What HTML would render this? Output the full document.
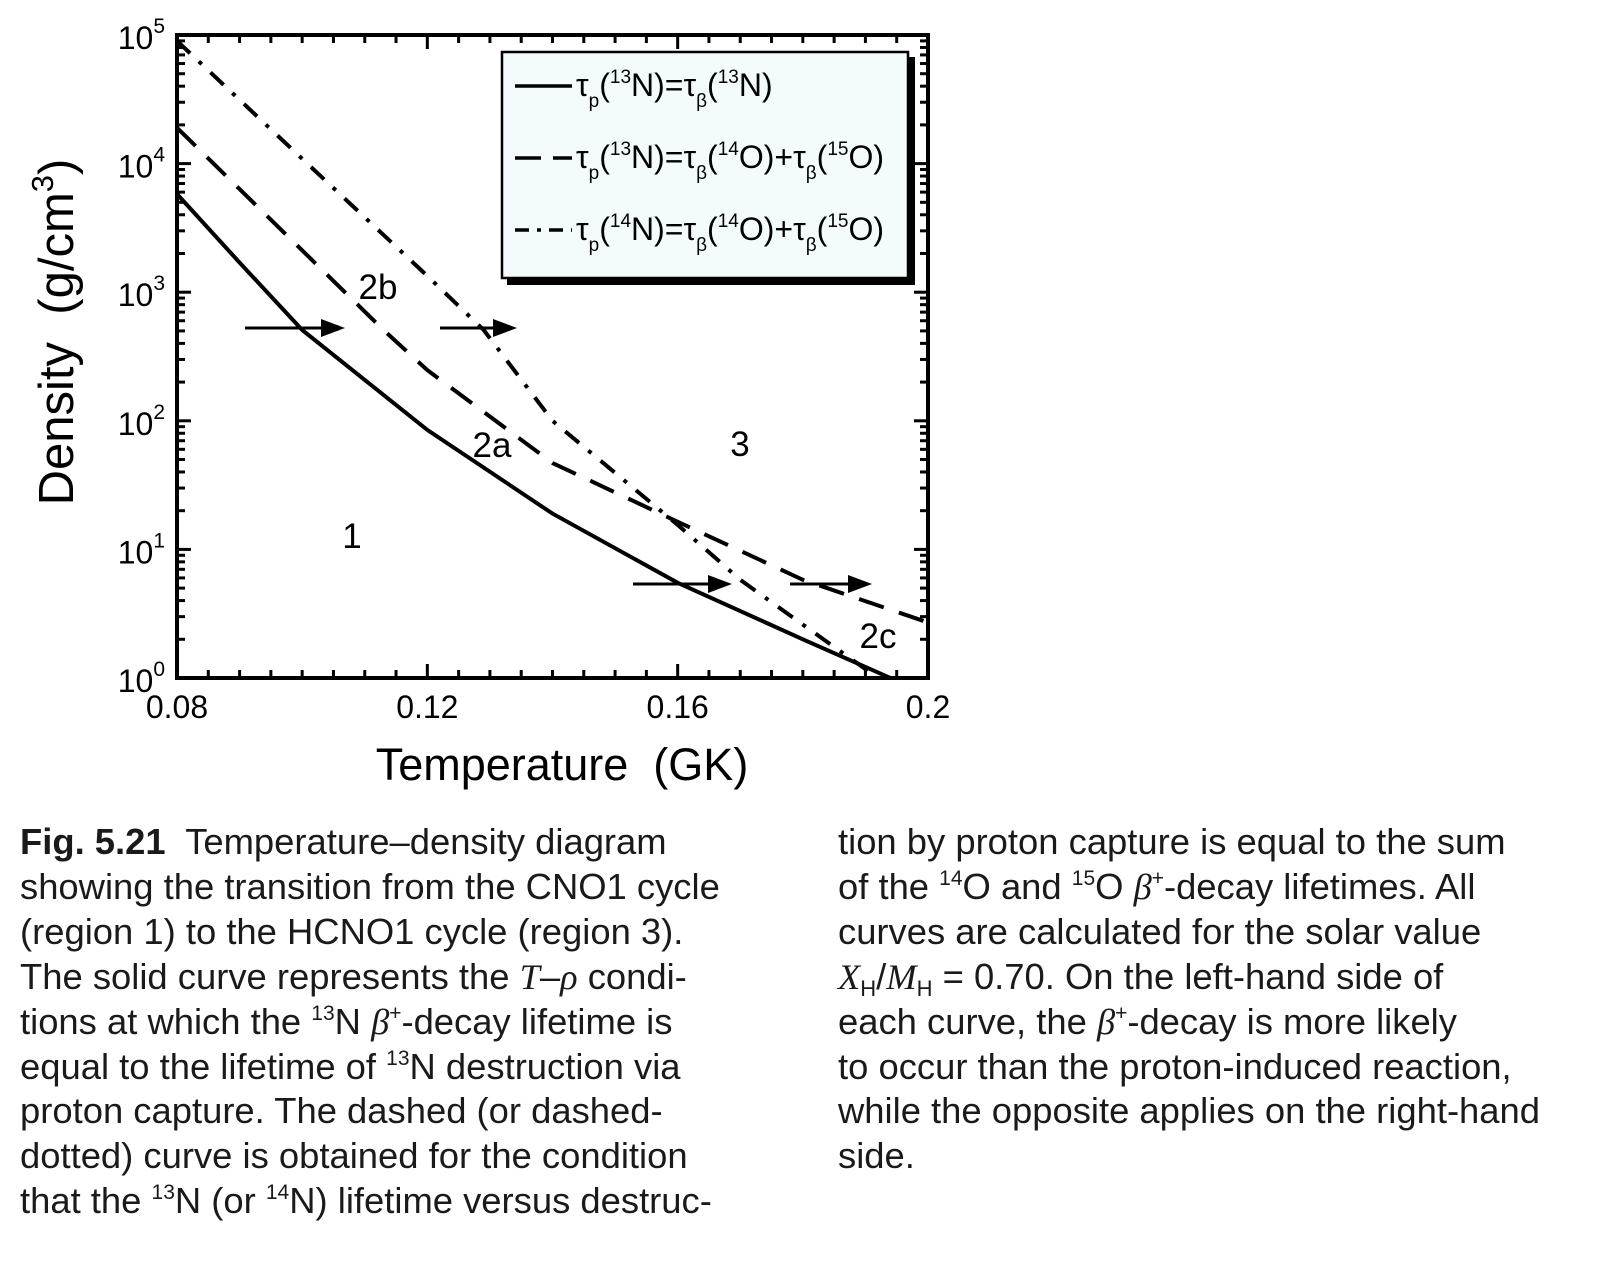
<!DOCTYPE html>
<html><head><meta charset="utf-8"><style>
body{margin:0;background:#fff;width:1608px;height:1266px;overflow:hidden;font-family:"Liberation Sans",sans-serif;}
.cap{position:absolute;font-size:36.4px;line-height:44.9px;color:#1a1a1a;white-space:nowrap;}
.cap i{font-family:"Liberation Serif",serif;}
.cap sup{font-size:21px;vertical-align:0;position:relative;top:-14px;line-height:0;}
.cap sub{font-size:22px;vertical-align:0;position:relative;top:7px;line-height:0;}
</style></head><body>
<svg id="chart" width="1608" height="800" style="position:absolute;left:0;top:0" font-family="Liberation Sans, sans-serif"></svg>
<div class="cap" style="left:20px;top:820px;"><b>Fig. 5.21</b>&nbsp; Temperature–density diagram<br>showing the transition from the CNO1 cycle<br>(region 1) to the HCNO1 cycle (region 3).<br>The solid curve represents the <i>T</i>–<i>ρ</i> condi-<br>tions at which the <sup>13</sup>N <i>β</i><sup>+</sup>-decay lifetime is<br>equal to the lifetime of <sup>13</sup>N destruction via<br>proton capture. The dashed (or dashed-<br>dotted) curve is obtained for the condition<br>that the <sup>13</sup>N (or <sup>14</sup>N) lifetime versus destruc-</div>
<div class="cap" style="left:838px;top:820px;">tion by proton capture is equal to the sum<br>of the <sup>14</sup>O and <sup>15</sup>O <i>β</i><sup>+</sup>-decay lifetimes. All<br>curves are calculated for the solar value<br><i>X</i><sub>H</sub>/<i>M</i><sub>H</sub> = 0.70. On the left-hand side of<br>each curve, the <i>β</i><sup>+</sup>-decay is more likely<br>to occur than the proton-induced reaction,<br>while the opposite applies on the right-hand<br>side.</div>
<script>
const solidT=[0.08,0.09,0.10,0.12,0.14,0.16,0.18,0.194];
const solidRho=[5800,1700,508,85,19,5.5,2.0,1.0];
const dashT=[0.08,0.113,0.12,0.14,0.16,0.18,0.2];
const dashRho=[19000,508,248,47,16.4,5.8,2.7];
const dotT=[0.08,0.10,0.12,0.129,0.14,0.16,0.17,0.18,0.192];
const dotRho=[90000,10900,1340,508,100,15.5,5.8,2.6,1.0];
const xTicks=[0.08,0.12,0.16,0.2];
const xTickLabels=["0.08","0.12","0.16","0.2"];
const yDecades=[0,1,2,3,4,5];
const L=177,R=928,T=35,B=678;
const X=t=>L+(t-0.08)/0.12*(R-L);
const Y=r=>B-Math.log10(r)/5*(B-T);
const svg=document.getElementById('chart');
const NS='http://www.w3.org/2000/svg';
function mk(tag,attrs,parent){const e=document.createElementNS(NS,tag);for(const k in attrs)e.setAttribute(k,attrs[k]);(parent||svg).appendChild(e);return e;}
for(let i=0;i<=24;i++){const t=0.08+i*0.005;const x=X(t);const len=(i%8===0)?14:8;
 let e=mk('line',{x1:x,x2:x,y1:B,y2:B-len,stroke:'#000','stroke-width':3});
 
 e=mk('line',{x1:x,x2:x,y1:T,y2:T+len,stroke:'#000','stroke-width':3});
 }
for(let d=0;d<5;d++){for(let m=1;m<10;m++){const y=Y(m*Math.pow(10,d));const len=m===1?14:8;
 let e=mk('line',{x1:L,x2:L+len,y1:y,y2:y,stroke:'#000','stroke-width':3});
 
 e=mk('line',{x1:R,x2:R-len,y1:y,y2:y,stroke:'#000','stroke-width':3});
 }}
xTicks.forEach((t,i)=>{const e=mk('text',{x:X(t),y:B+40,'font-size':32,'text-anchor':'middle'});e.textContent=xTickLabels[i];
 });
yDecades.forEach(d=>{const e=mk('text',{x:L-12,y:Y(Math.pow(10,d))+14,'font-size':32,'text-anchor':'end'});
 e.innerHTML='10<tspan dy="-16" font-size="21">'+d+'</tspan>';
 });
function curve(ts,rs,dash,name){const d=ts.map((t,i)=>(i?'L':'M')+X(t).toFixed(1)+','+Y(rs[i]).toFixed(1)).join(' ');
 const e=mk('path',{d:d,fill:'none',stroke:'#000','stroke-width':4,'stroke-dasharray':dash,'clip-path':'url(#clp)'});
 }
const defs=mk('defs',{});const cp=mk('clipPath',{id:'clp'},defs);mk('rect',{x:L,y:T,width:R-L,height:B-T},cp);
curve(solidT,solidRho,'none','solid-curve-13N');
curve(dashT,dashRho,'26,16','dashed-curve-13N-O');
curve(dotT,dotRho,'18,12,4,12','dashdot-curve-14N-O');
let fr=mk('rect',{x:L,y:T,width:R-L,height:B-T,fill:'none',stroke:'#000','stroke-width':4});

[[245,345,328],[440,517,328],[633,732,584],[790,872,584]].forEach(a=>{
 let e=mk('line',{x1:a[0],x2:a[1]-20,y1:a[2],y2:a[2],stroke:'#000','stroke-width':3});
 
 e=mk('polygon',{points:`${a[1]-24},${a[2]-9} ${a[1]},${a[2]} ${a[1]-24},${a[2]+9}`,fill:'#000'});
 });
[['2b',378,299],['2a',492,457],['3',740,456],['1',352,548],['2c',878,648]].forEach(l=>{
 const e=mk('text',{x:l[1],y:l[2],'font-size':35,'text-anchor':'middle'});e.textContent=l[0];
 });
let g=mk('g',{});
mk('rect',{x:507,y:57,width:408,height:228,fill:'#000'},g);
mk('rect',{x:502,y:52,width:406,height:226,fill:'#f4fbfd',stroke:'#000','stroke-width':2.5},g);
const entries=[
 ['none','13','N)','13','N)',null],
 ['26,12','13','N)','14','O)','15'],
 ['14,8,4,8','14','N)','14','O)','15']];
entries.forEach((en,i)=>{const y=86+i*72;
 let e=mk('line',{x1:515,x2:572,y1:y,y2:y,stroke:'#000','stroke-width':3.5,'stroke-dasharray':en[0]},g);
 
 const t=mk('text',{x:576,y:y+10,'font-size':32},g);
 let s='τ<tspan dy="11" font-size="19">p</tspan><tspan dy="-11">(</tspan><tspan dy="-13" font-size="19">'+en[1]+'</tspan><tspan dy="13">'+en[2]+'=τ</tspan><tspan dy="11" font-size="19">β</tspan><tspan dy="-11">(</tspan><tspan dy="-13" font-size="19">'+en[3]+'</tspan><tspan dy="13">'+en[4]+'</tspan>';
 if(en[5])s+='<tspan>+τ</tspan><tspan dy="11" font-size="19">β</tspan><tspan dy="-11">(</tspan><tspan dy="-13" font-size="19">'+en[5]+'</tspan><tspan dy="13">O)</tspan>';
 t.innerHTML=s;});
let e=mk('text',{x:562,y:780,'font-size':45,'text-anchor':'middle',style:'white-space:pre'});e.textContent='Temperature  (GK)';

e=mk('text',{x:0,y:0,'font-size':49,'text-anchor':'middle',style:'white-space:pre',transform:'translate(73,332) rotate(-90)'});
e.innerHTML='Density  (g/cm<tspan dy="-20" font-size="31">3</tspan><tspan dy="20">)</tspan>';

</script>
</body></html>
